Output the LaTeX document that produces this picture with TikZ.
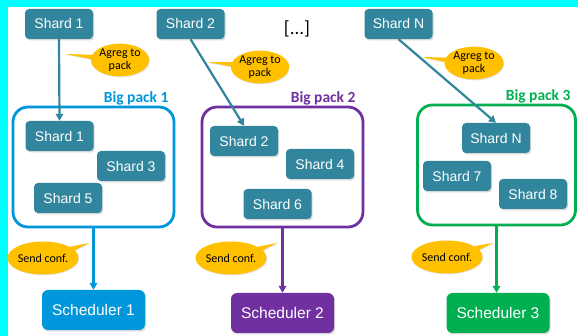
\documentclass[tikz,border=0pt]{standalone}
\usepackage{fontspec}
\setmainfont{Liberation Sans}
\newfontfamily\calfont{Carlito}
\usetikzlibrary{shapes.callouts,shapes.geometric,shadows,arrows.meta}
\definecolor{teal1}{HTML}{31859C}
\definecolor{blue1}{HTML}{0096DB}
\definecolor{purp1}{HTML}{7030A0}
\definecolor{green1}{HTML}{00B050}
\definecolor{orng}{HTML}{FFC000}
\definecolor{cyanbg}{HTML}{00FFFF}
\tikzset{
  shardbox/.style={fill=teal1, rounded corners=4pt, minimum width=68pt, minimum height=30pt, inner sep=0pt,
    text=white, font=\fontsize{14}{16}\selectfont,
    drop shadow={shadow xshift=1.2pt, shadow yshift=-1.5pt, opacity=0.3}},
  schedbox/.style={rounded corners=6pt, minimum width=103pt, minimum height=40pt, inner sep=0pt,
    text=white, font=\fontsize{15.5}{17}\selectfont,
    drop shadow={shadow xshift=1.2pt, shadow yshift=-1.5pt, opacity=0.3}},
  packbox/.style={draw, line width=2.8pt, rounded corners=15pt, inner sep=0pt},
  packlabel/.style={anchor=east, font=\calfont\bfseries\fontsize{15.5}{17}\selectfont},
  bubble/.style={ellipse callout, fill=orng, inner sep=0pt, align=center,
    font=\calfont\fontsize{12}{13.5}\selectfont,
    drop shadow={shadow xshift=0.8pt, shadow yshift=-1pt, opacity=0.2}},
  conn/.style={line width=2.2pt, -{Triangle[length=7pt,width=7.5pt]}},
}
\begin{document}
\begin{tikzpicture}[x=1pt,y=-1pt]
\useasboundingbox (0,0) rectangle (578,336);
\fill[cyanbg] (0,0) rectangle (578,336);
\fill[white] (8,7) rectangle (578,336);

% top shards
\node[shardbox] (t1) at (59,24) {Shard 1};
\node[shardbox] (t2) at (190.5,24) {Shard 2};
\node[shardbox] (tn) at (398.5,24) {Shard N};
\node[font=\calfont\fontsize{19}{21}\selectfont] (dots) at (297,29) {[...]};

% big packs
\node[packbox, draw=blue1, minimum width=161pt, minimum height=120pt] (bp1) at (93.5,167) {};
\node[packbox, draw=purp1, minimum width=161pt, minimum height=120pt] (bp2) at (282.5,167) {};
\node[packbox, draw=green1, minimum width=158pt, minimum height=120pt] (bp3) at (496.5,165) {};
\node[packlabel, text=blue1] (l1) at (172,98) {Big pack 1};
\node[packlabel, text=purp1] (l2) at (359,98) {Big pack 2};
\node[packlabel, text=green1] (l3) at (574,96) {Big pack 3};

% inner shards
\node[shardbox] (s1) at (59.5,136) {Shard 1};
\node[shardbox] (s3) at (131,166) {Shard 3};
\node[shardbox] (s5) at (68,198) {Shard 5};
\node[shardbox] (s2) at (244,141) {Shard 2};
\node[shardbox] (s4) at (320,164) {Shard 4};
\node[shardbox] (s6) at (277.5,204) {Shard 6};
\node[shardbox] (sn) at (496,138) {Shard N};
\node[shardbox] (s7) at (457,176) {Shard 7};
\node[shardbox] (s8) at (533,194) {Shard 8};

% schedulers
\node[schedbox, fill=blue1] (c1) at (93.5,310) {Scheduler 1};
\node[schedbox, fill=purp1] (c2) at (282.5,313) {Scheduler 2};
\node[schedbox, fill=green1] (c3) at (498,313) {Scheduler 3};

% connectors
\draw[conn, teal1] (t1.south) -- (s1.north);
\draw[conn, teal1] (t2.south) -- (s2.north);
\draw[conn, teal1] (tn.south) -- (sn.north);
\draw[conn, blue1] (bp1.south) -- (bp1.south |- c1.north);
\draw[conn, purp1] (bp2.south) -- (bp2.south |- c2.north);
\draw[conn, green1] (bp3.south) -- (bp3.south |- c3.north);

% callouts
\coordinate (pa1) at (65,54);
\coordinate (pa2) at (207,62);
\coordinate (pa3) at (422,57);
\coordinate (ps1) at (89,243);
\coordinate (ps2) at (277,243);
\coordinate (ps3) at (493,243);
\node[bubble, minimum width=56pt, minimum height=29pt, callout absolute pointer={(pa1)}] (a1) at (120,60) {Agreg to\\pack};
\node[bubble, minimum width=58pt, minimum height=31pt, callout absolute pointer={(pa2)}] (a2) at (260,67) {Agreg to\\pack};
\node[bubble, minimum width=59pt, minimum height=31pt, callout absolute pointer={(pa3)}] (a3) at (474,63) {Agreg to\\pack};
\node[bubble, minimum width=60pt, minimum height=33pt, callout absolute pointer={(ps1)}] (b1) at (43,258) {Send conf.};
\node[bubble, minimum width=60pt, minimum height=33pt, callout absolute pointer={(ps2)}] (b2) at (231,258) {Send conf.};
\node[bubble, minimum width=60pt, minimum height=33pt, callout absolute pointer={(ps3)}] (b3) at (447,257) {Send conf.};
\end{tikzpicture}
\end{document}
